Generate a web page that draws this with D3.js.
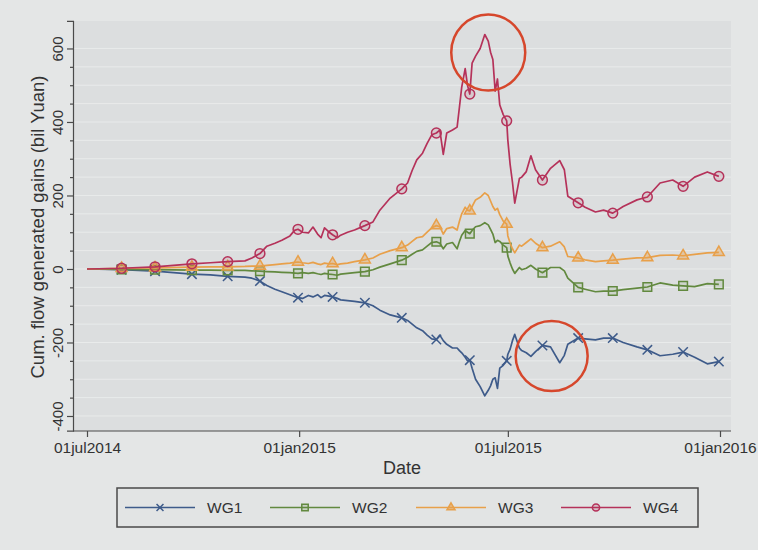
<!DOCTYPE html>
<html><head><meta charset="utf-8">
<script src="https://cdn.jsdelivr.net/npm/d3@7"></script>
<style>
body{margin:0;background:#e4e6e6}
svg{display:block}
text{font-family:"Liberation Sans",Arial,sans-serif;fill:#333}
</style>
</head><body>
<svg id="c" width="758" height="550"></svg>
<script>
// ---------- data ----------
const dates = ["2014-07-01","2014-07-31","2014-08-29","2014-09-30","2014-10-16","2014-10-31","2014-11-15","2014-11-21","2014-11-28","2014-12-04","2014-12-11","2014-12-17","2014-12-24","2014-12-28","2014-12-31",
"2015-01-04","2015-01-09","2015-01-13","2015-01-17","2015-01-20","2015-01-23","2015-01-27","2015-01-30","2015-02-03","2015-02-06","2015-02-12","2015-02-18","2015-02-27","2015-03-06","2015-03-12","2015-03-21","2015-03-31",
"2015-04-05","2015-04-09","2015-04-13","2015-04-18","2015-04-22","2015-04-26","2015-04-30","2015-05-03","2015-05-06","2015-05-09","2015-05-14","2015-05-18","2015-05-20","2015-05-22","2015-05-25","2015-05-27","2015-05-29","2015-05-31",
"2015-06-03","2015-06-07","2015-06-11","2015-06-14","2015-06-16","2015-06-18","2015-06-20","2015-06-22","2015-06-24","2015-06-27","2015-06-30","2015-07-01","2015-07-03","2015-07-05","2015-07-07","2015-07-11","2015-07-13","2015-07-17","2015-07-21","2015-07-25","2015-07-31",
"2015-08-07","2015-08-15","2015-08-19","2015-08-22","2015-08-31","2015-09-06","2015-09-15","2015-09-22","2015-09-30","2015-10-09","2015-10-21","2015-10-30","2015-11-10","2015-11-21","2015-11-30","2015-12-10","2015-12-21","2015-12-31"];

const wg1 = [0,-2,-6,-14,-16,-20,-22,-25,-33,-45,-55,-62,-70,-75,-78,
-80,-72,-76,-70,-78,-72,-74,-76,-80,-84,-86,-88,-92,-100,-112,-125,-133,
-140,-150,-160,-168,-180,-190,-192,-180,-195,-205,-215,-215,-222,-228,-240,-250,-248,-270,
-300,-320,-345,-330,-318,-300,-296,-325,-270,-262,-250,-232,-218,-195,-178,-215,-222,-228,-238,-225,-208,
-212,-255,-235,-205,-188,-190,-193,-188,-188,-200,-212,-220,-236,-232,-226,-240,-258,-252];

const wg2 = [0,-1,-2,-3,-3,-4,-4,-5,-6,-7,-8,-9,-10,-11,-12,
-10,-12,-10,-13,-15,-12,-14,-15,-17,-14,-12,-10,-7,-2,5,14,24,
32,40,48,52,62,72,74,70,55,68,72,55,75,92,105,100,96,105,
115,118,126,120,108,95,72,78,75,65,58,35,16,0,-12,4,-2,2,10,0,-10,
4,4,-5,-25,-50,-55,-62,-60,-60,-56,-52,-49,-38,-44,-46,-48,-40,-42];

const wg3 = [0,2,3,5,6,6,7,8,8,10,12,14,16,18,19,
17,15,18,14,12,16,14,15,12,14,16,20,25,30,40,50,58,
65,75,85,88,100,112,118,115,95,110,114,106,130,150,168,160,158,170,
188,195,207,200,185,170,160,165,148,130,122,90,70,55,44,65,62,72,82,70,58,
62,74,60,34,30,25,20,22,24,27,30,31,37,38,36,40,44,45];

const wg4 = [0,2,6,14,17,20,22,30,42,62,70,78,90,105,108,
100,98,114,95,85,112,100,93,85,92,100,106,118,128,160,193,218,
234,268,297,315,342,365,370,378,312,370,378,386,440,495,545,500,476,560,
579,600,638,620,590,570,484,517,446,420,403,350,284,236,179,246,250,265,308,270,242,
274,295,270,198,180,168,155,160,152,170,188,196,234,242,225,250,264,252];

const markerDates = ["2014-07-31","2014-08-29","2014-09-30","2014-10-31","2014-11-28","2014-12-31","2015-01-30","2015-02-27","2015-03-31","2015-04-30","2015-05-29","2015-06-30","2015-07-31","2015-08-31","2015-09-30","2015-10-30","2015-11-30","2015-12-31"];

const seriesNames = ["WG1","WG2","WG3","WG4"];
const seriesColors = ["#3e5b8a","#62893f","#e8a04a","#b5325a"];
const xTickDates = ["2014-07-01","2015-01-01","2015-07-01","2016-01-01"];
const yMajorTicks = [-400,-200,0,200,400,600];
const yMinorTicks = [-350,-300,-250,-150,-100,-50,50,100,150,250,300,350,450,500,550];

// annotation circles (centre date, centre value, radii in px)
const annotDates = ["2015-06-14","2015-08-08"];
const annotValues = [589,-237];
const annotRx = [37,36];
const annotRy = [38,35];

// ---------- drawing ----------
const parse = d3.utcParse("%Y-%m-%d");
const svg = d3.select("#c");
const W = 758, H = 550;
const plot = {l:73, r:731, t:21, b:431};

svg.append("rect").attr("width",W).attr("height",H).attr("fill","#e4e6e6");
svg.append("rect").attr("x",plot.l).attr("y",plot.t).attr("width",plot.r-plot.l).attr("height",plot.b-plot.t).attr("fill","#dcdedf");

const x = d3.scaleUtc().domain([parse("2014-07-01"), parse("2016-01-01")]).range([87,720]);
const y = d3.scaleLinear().domain([-440,675]).range([430.7,20.9]);

// grid
svg.append("g").selectAll("line").data(yMajorTicks.concat(yMinorTicks)).join("line")
  .attr("x1",plot.l).attr("x2",plot.r).attr("y1",d=>y(d)).attr("y2",d=>y(d))
  .attr("stroke","#e9ebeb").attr("stroke-width",1);

// axes
const axisColor = "#4a4a4a";
const gx = svg.append("g").attr("transform",`translate(0,${plot.b})`)
  .call(d3.axisBottom(x).tickValues(xTickDates.map(parse)).tickSize(6)
    .tickFormat(d => d3.utcFormat("%d%b%Y")(d).toLowerCase()));
gx.select(".domain").attr("d",`M${plot.l},0H${plot.r}`);
gx.selectAll("text").attr("font-size",15.5).attr("y",9).attr("dy","0.85em").style("fill","#333");

const gy = svg.append("g").attr("transform",`translate(${plot.l},0)`)
  .call(d3.axisLeft(y).tickValues(yMajorTicks).tickSize(6).tickFormat(d=>String(d)));
gy.selectAll(".tick text").attr("x",0).attr("y",-10).attr("dy",0)
  .attr("text-anchor","middle").attr("transform","rotate(-90)").attr("font-size",15).style("fill","#333");
const gym = svg.append("g").attr("transform",`translate(${plot.l},0)`)
  .call(d3.axisLeft(y).tickValues(yMinorTicks).tickSize(3).tickFormat(""));
gym.select(".domain").remove();
[gx,gy,gym].forEach(g=>{g.selectAll(".domain").attr("stroke",axisColor).attr("stroke-width",1.2);g.selectAll("line").attr("stroke",axisColor).attr("stroke-width",1.2);});

// axis titles
svg.append("text").attr("x",(plot.l+plot.r)/2).attr("y",474).attr("text-anchor","middle")
  .attr("font-size",18).text("Date");
svg.append("text").attr("transform",`translate(44,${(75+379)/2}) rotate(-90)`).attr("text-anchor","middle")
  .attr("font-size",18.5).text("Cum. flow generated gains (bil Yuan)");

// series
const allValues = [wg1,wg2,wg3,wg4];
const series = seriesNames.map((n,i)=>({name:n,color:seriesColors[i],
  pts:dates.map((d,j)=>({date:parse(d),v:allValues[i][j],key:d}))}));
const line = d3.line().x(d=>x(d.date)).y(d=>y(d.v));
const symbols = [d3.symbolX,d3.symbolSquare,d3.symbolTriangle,d3.symbolCircle];
const symSizes = [60,75,52,75];

series.forEach((s,i)=>{
  const g = svg.append("g");
  g.append("path").datum(s.pts).attr("d",line).attr("fill","none")
    .attr("stroke",s.color).attr("stroke-width",1.7).attr("stroke-linejoin","round");
  g.selectAll("path.m").data(s.pts.filter(p=>markerDates.includes(p.key))).join("path").attr("class","m")
    .attr("transform",p=>`translate(${x(p.date)},${y(p.v)})`)
    .attr("d",d3.symbol(symbols[i],symSizes[i]))
    .attr("fill", i===0 ? "none" : s.color).attr("fill-opacity", i===2 ? 0.4 : 0.12)
    .attr("stroke",s.color).attr("stroke-width",1.5);
});

// annotation ellipses
annotDates.forEach((d,i)=>{
  svg.append("ellipse").attr("cx",x(parse(d))).attr("cy",y(annotValues[i]))
    .attr("rx",annotRx[i]).attr("ry",annotRy[i]).attr("fill","none")
    .attr("stroke","#d6472c").attr("stroke-width",2.5);
});

// legend
const lg = svg.append("g");
lg.append("rect").attr("x",117).attr("y",488).attr("width",581).attr("height",39)
  .attr("fill","#e2e4e4").attr("stroke","#4a4a4a").attr("stroke-width",1.5);
const legX = [125,270,416,561];
seriesNames.forEach((n,i)=>{
  const x0 = legX[i];
  lg.append("line").attr("x1",x0).attr("x2",x0+70).attr("y1",507.5).attr("y2",507.5)
    .attr("stroke",seriesColors[i]).attr("stroke-width",1.7);
  lg.append("path").attr("transform",`translate(${x0+35},507.5)`)
    .attr("d",d3.symbol(symbols[i],symSizes[i]*0.55))
    .attr("fill", i===0 ? "none" : seriesColors[i]).attr("fill-opacity", i===2 ? 0.6 : 0.2)
    .attr("stroke",seriesColors[i]).attr("stroke-width",1.5);
  lg.append("text").attr("x",x0+82).attr("y",513).attr("font-size",15.5).text(n);
});
</script>
</body></html>
